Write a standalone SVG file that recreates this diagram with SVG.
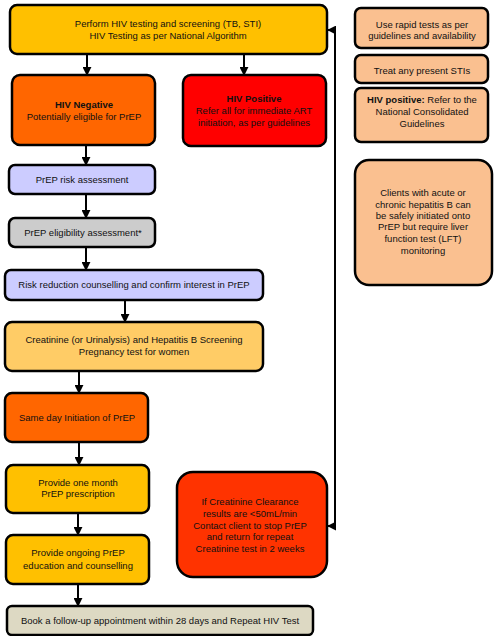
<svg xmlns="http://www.w3.org/2000/svg" width="497" height="636" viewBox="0 0 497 636">
<defs>
<marker id="ah" viewBox="0 0 10 10" refX="9" refY="5" markerWidth="4.5" markerHeight="4.5" orient="auto"><path d="M0,0 L10,5 L0,10 z" fill="#000"/></marker>
<style>
.b{stroke:#000;stroke-width:2.5}
text{font-family:"Liberation Sans",Arial,sans-serif;font-size:9.5px;fill:#111;text-anchor:middle}
.bd{font-weight:bold}
.c{fill:none;stroke:#000;stroke-width:2;marker-end:url(#ah)}
</style>
</defs>
<rect width="497" height="636" fill="#fff"/>
<g id="connectors">
<path class="c" d="M87,54 V75"/>
<path class="c" d="M244,54 V75"/>
<path class="c" d="M86,146 V165"/>
<path class="c" d="M86,194 V218"/>
<path class="c" d="M86,247 V270"/>
<path class="c" d="M125,300 V322"/>
<path class="c" d="M79,371 V393"/>
<path class="c" d="M79,442 V465"/>
<path class="c" d="M78,513 V535"/>
<path class="c" d="M78,584 V606"/>
<path class="c" d="M335,526 V30 H328"/>
<path class="c" d="M335,300 V526 H328"/>
</g>
<g id="n1"><rect class="b" x="10" y="5" width="317" height="49" rx="7" fill="#FFC000"/>
<text x="168" y="27">Perform HIV testing and screening (TB, STI)</text><text x="168" y="39">HIV Testing as per National Algorithm</text></g>
<g id="n2"><rect class="b" x="12" y="75" width="143" height="70" rx="8" fill="#FF6600"/>
<text class="bd" x="84" y="108">HIV Negative</text><text x="84" y="120">Potentially eligible for PrEP</text></g>
<g id="n3"><rect class="b" x="183" y="75" width="143" height="71" rx="8" fill="#FF0000"/>
<text class="bd" x="254" y="102">HIV Positive</text><text x="254" y="114">Refer all for immediate ART</text><text x="254" y="126">initiation, as per guidelines</text></g>
<g id="s1"><rect class="b" x="355" y="8" width="133" height="40" rx="6" fill="#FAC090"/>
<text x="422" y="28">Use rapid tests as per</text><text x="422" y="39">guidelines and availability</text></g>
<g id="s2"><rect class="b" x="355" y="55" width="133" height="28" rx="6" fill="#FAC090"/>
<text x="422" y="74">Treat any present STIs</text></g>
<g id="s3"><rect class="b" x="355" y="88" width="133" height="54" rx="6" fill="#FAC090"/>
<text x="422" y="103"><tspan class="bd">HIV positive:</tspan> Refer to the</text><text x="422" y="115">National Consolidated</text><text x="422" y="127">Guidelines</text></g>
<g id="s4"><rect class="b" x="355" y="160" width="137" height="125" rx="14" fill="#FAC090"/>
<text x="423" y="196">Clients with acute or</text><text x="423" y="208">chronic hepatitis B can</text><text x="423" y="219">be safely initiated onto</text><text x="423" y="230">PrEP but require liver</text><text x="423" y="242">function test (LFT)</text><text x="423" y="254">monitoring</text></g>
<g id="n4"><rect class="b" x="9" y="165" width="146" height="29" rx="6" fill="#CCCCFF"/>
<text x="82" y="183">PrEP risk assessment</text></g>
<g id="n5"><rect class="b" x="9" y="218" width="146" height="29" rx="6" fill="#CCCCCC"/>
<text x="83" y="236">PrEP eligibility assessment*</text></g>
<g id="n6"><rect class="b" x="5" y="270" width="258" height="30" rx="6" fill="#CCCCFF"/>
<text x="134" y="288">Risk reduction counselling and confirm interest in PrEP</text></g>
<g id="n7"><rect class="b" x="5" y="322" width="258" height="49" rx="7" fill="#FFCC66"/>
<text x="134" y="343">Creatinine (or Urinalysis) and Hepatitis B Screening</text><text x="134" y="355">Pregnancy test for women</text></g>
<g id="n8"><rect class="b" x="5" y="393" width="143" height="49" rx="7" fill="#FF6600"/>
<text x="77" y="421">Same day Initiation of PrEP</text></g>
<g id="n9"><rect class="b" x="6" y="465" width="143" height="48" rx="7" fill="#FFC000"/>
<text x="78" y="486">Provide one month</text><text x="78" y="497">PrEP prescription</text></g>
<g id="n10"><rect class="b" x="6" y="535" width="143" height="49" rx="7" fill="#FFC000"/>
<text x="78" y="556">Provide ongoing PrEP</text><text x="78" y="569">education and counselling</text></g>
<g id="n11"><rect class="b" x="177" y="472" width="150" height="105" rx="16" fill="#FF3300"/>
<text x="250" y="505">If Creatinine Clearance</text><text x="250" y="517">results are &lt;50mL/min</text><text x="250" y="529">Contact client to stop PrEP</text><text x="250" y="540">and return for repeat</text><text x="250" y="552">Creatinine test in 2 weeks</text></g>
<g id="n12"><rect class="b" x="7" y="606" width="306" height="29" rx="5" fill="#DDD9C3"/>
<text x="160" y="624">Book a follow-up appointment within 28 days and Repeat HIV Test</text></g>
</svg>
